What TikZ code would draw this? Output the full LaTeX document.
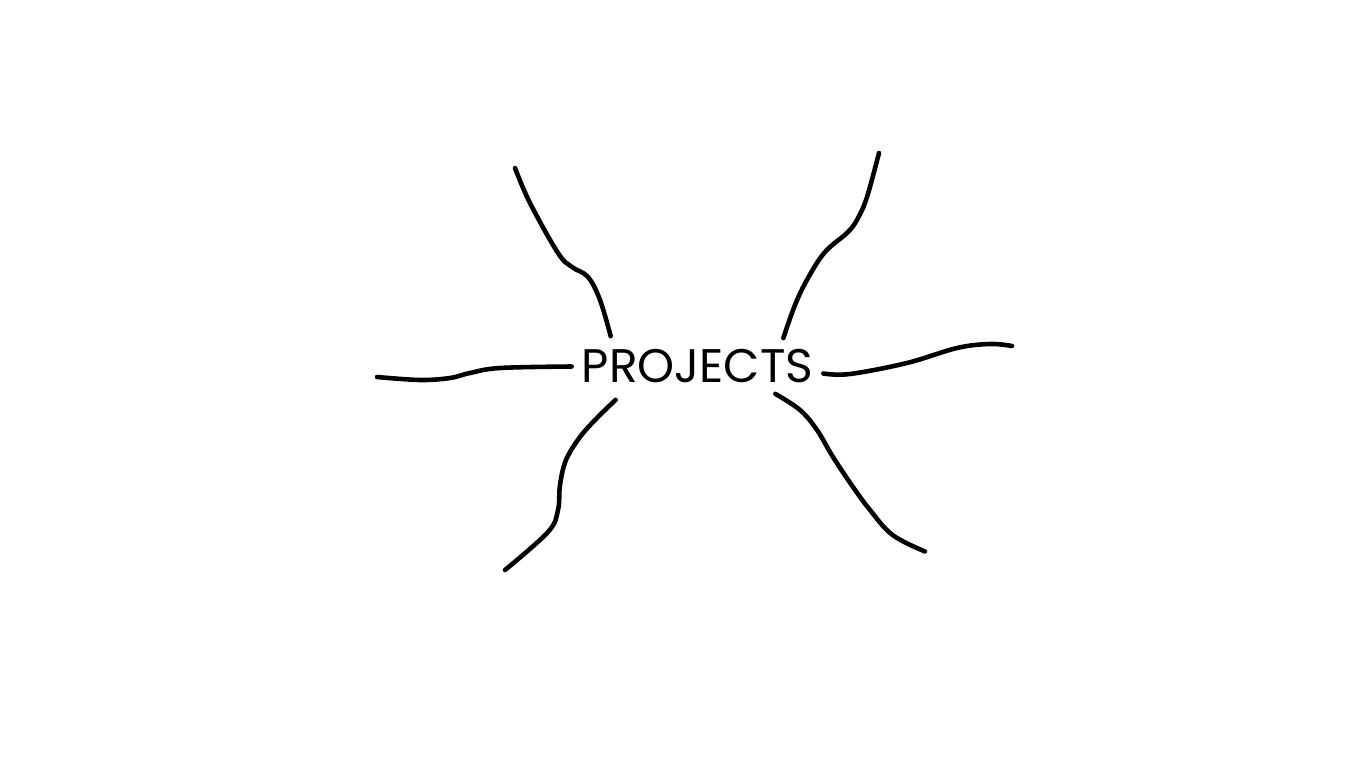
\documentclass[tikz,border=0pt]{standalone}
\usepackage{fontspec}
\setmainfont{Poppins}
\begin{document}
\begin{tikzpicture}[branch/.style={line width=2.6pt, line cap=round, line join=round}]
   \useasboundingbox (0,0) rectangle (27.32,15.2);
   % central word
   \node[minimum width=5.02cm, minimum height=1.2cm, inner sep=0,
         font=\fontsize{26.8}{28}\selectfont] (proj) at (13.95,7.87) {PROJECTS};
   % free ends of the branches
   \coordinate (tipUL) at (10.3,11.84);
   \coordinate (tipL)  at (7.54,7.66);
   \coordinate (tipLL) at (10.1,3.8);
   \coordinate (tipUR) at (17.58,12.14);
   \coordinate (tipR)  at (20.24,8.28);
   \coordinate (tipLR) at (18.5,4.17);
   % left branches
   \draw[branch] plot[smooth, tension=0.6] coordinates {([xshift=0.78cm]proj.north west)
      (12.0,9.2) (11.76,9.66) (11.44,9.86) (11.16,10.14) (10.6,11.14) (tipUL)};
   \draw[branch] plot[smooth, tension=0.6] coordinates {(proj.west)
      (10.0,7.84) (9.4,7.74) (9.0,7.64) (8.4,7.6) (tipL)};
   \draw[branch] plot[smooth, tension=0.6] coordinates {([xshift=0.88cm, yshift=-0.06cm]proj.south west)
      (11.94,6.84) (11.6,6.46) (11.32,6.0) (11.2,5.5) (11.16,5.0) (10.96,4.56) (tipLL)};
   % right branches
   \draw[branch] plot[smooth, tension=0.6] coordinates {([xshift=-0.8cm, yshift=-0.04cm]proj.north east)
      (15.9,9.1) (16.16,9.64) (16.5,10.16) (16.96,10.56) (17.16,10.84) (17.34,11.26) (tipUR)};
   \draw[branch] plot[smooth, tension=0.6] coordinates {([yshift=-0.14cm]proj.east)
      (17.0,7.72) (18.14,7.94) (19.14,8.24) (19.8,8.32) (tipR)};
   \draw[branch] plot[smooth, tension=0.6] coordinates {([xshift=-0.96cm, yshift=0.06cm]proj.south east)
      (16.0,7.0) (16.34,6.6) (16.66,6.06) (17.06,5.46) (17.4,5.0) (17.85,4.5) (tipLR)};
\end{tikzpicture}
\end{document}
